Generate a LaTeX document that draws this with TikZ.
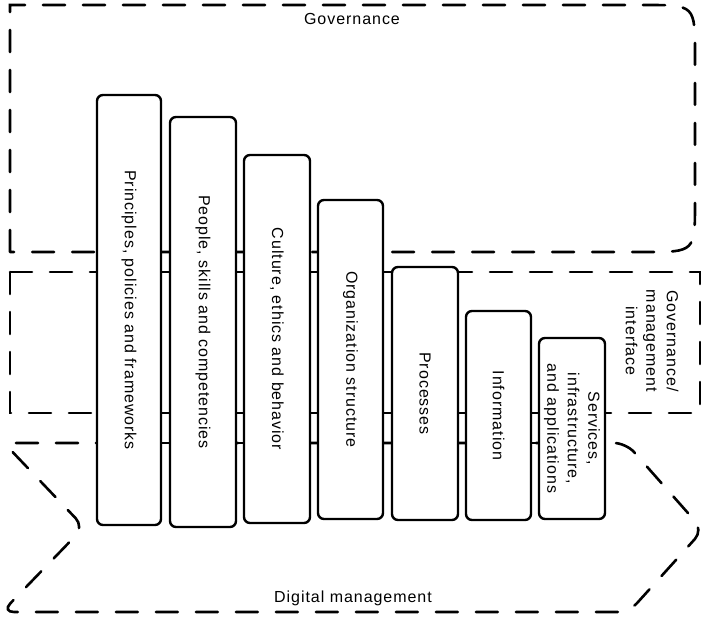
\documentclass[tikz,border=0pt]{standalone}
\usepackage{fontspec}
\setmainfont{Liberation Sans}[LetterSpace=6]
\begin{document}
\begin{tikzpicture}[x=1pt,y=-1pt,
  dashbox/.style={line width=2.6pt, dash pattern=on 22pt off 18pt, line cap=round},
  shelf/.style={line width=2.5pt},
  book/.style={draw, fill=white, line width=2.4pt, rounded corners=6pt, rotate=-90,
    inner sep=0pt, align=center, font=\fontsize{16}{20.5}\selectfont},
  lbl/.style={inner sep=0pt, align=center, font=\fontsize{16}{20.5}\selectfont}]
\useasboundingbox (0,0) rectangle (704,620);
% Governance box
\draw[dashbox] (10,252) -- (10,5) -- (645,5) .. controls (695,5) .. (695,55)
  -- (695,202) .. controls (695,252) .. (645,252) -- cycle;
% Governance/management interface box
\draw[dashbox] (10,272) rectangle (700,413);
% Digital management chevron
\draw[dashbox, rounded corners=12pt] (4,443) -- (626,443) -- (703,530) -- (629,612)
  -- (2,612) -- (84,527) -- cycle;
% shelf lines
\draw[shelf] (97,272) -- (458,272);
\draw[shelf] (97,413) -- (605,413);
\draw[shelf] (97,443) -- (605,443);
% books
\node[book, minimum width=430pt, minimum height=64pt] (b1) at (129,310) {Principles, policies and frameworks};
\node[book, minimum width=410pt, minimum height=66pt] (b2) at (203,322) {People, skills and competencies};
\node[book, minimum width=368pt, minimum height=66pt] (b3) at (277,339) {Culture, ethics and behavior};
\node[book, minimum width=319pt, minimum height=65pt] (b4) at (350.5,359.5) {Organization structure};
\node[book, minimum width=253pt, minimum height=66pt] (b5) at (425,393.5) {Processes};
\node[book, minimum width=209pt, minimum height=65pt] (b6) at (498.5,415.5) {Information};
\node[book, minimum width=181pt, minimum height=66pt] (b7) at (572,428.5) {Services,\\infrastructure,\\and applications};
% labels
\node[lbl] (gov) at (352,19) {Governance};
\node[lbl, rotate=-90] (gmi) at (652,341) {Governance/\\management\\interface};
\node[lbl] (dm) at (353,598) {Digital management};
\end{tikzpicture}
\end{document}
